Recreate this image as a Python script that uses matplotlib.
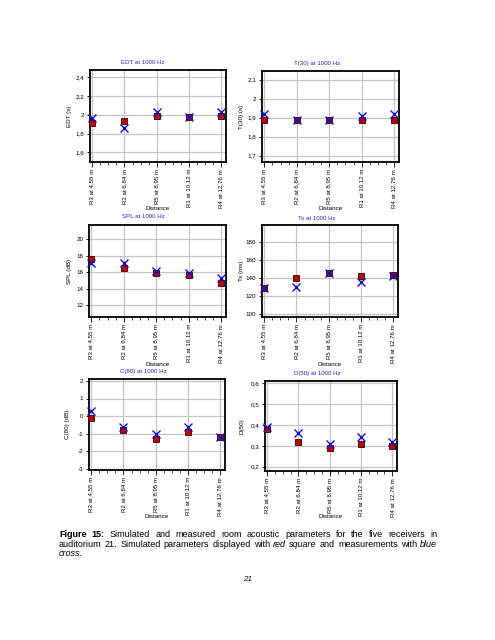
import numpy as np
import matplotlib
matplotlib.use('Agg')
import matplotlib.pyplot as plt
from matplotlib.ticker import MultipleLocator, FixedLocator, FuncFormatter

plt.rcParams['font.family'] = ['Liberation Sans', 'DejaVu Sans']

receivers = ['R3 at 4,55 m', 'R2 at 6,84 m', 'R5 at 8,95 m', 'R1 at 10,12 m', 'R4 at 12,76 m']

# simulated (red square) / measured (blue cross)
edt_sim = [1.91, 1.93, 1.99, 1.98, 1.99]
edt_meas = [1.97, 1.86, 2.03, 1.98, 2.03]
t30_sim = [1.89, 1.89, 1.89, 1.89, 1.89]
t30_meas = [1.92, 1.89, 1.89, 1.91, 1.92]
spl_sim = [17.6, 16.5, 15.9, 15.6, 14.7]
spl_meas = [17.1, 17.1, 16.1, 15.9, 15.3]
ts_sim = [129, 140, 146, 142, 144]
ts_meas = [129, 130, 146, 136, 142]
c80_sim = [-0.1, -0.8, -1.3, -0.9, -1.2]
c80_meas = [0.3, -0.6, -1.0, -0.6, -1.2]
d50_sim = [0.38, 0.32, 0.29, 0.31, 0.30]
d50_meas = [0.39, 0.36, 0.31, 0.34, 0.32]

W, H = 495, 640
fig = plt.figure(figsize=(W / 100, H / 100), dpi=100)

def fx(x):
    return x / W

def fy(y):
    return 1 - y / H

def comma(v, pos):
    s = f'{v:.2f}'.rstrip('0').rstrip('.')
    return s.replace('.', ',')

# title, ylabel, sim, meas, ylim, yticks, box(l, r, t, b), title y
panels = [
    ('EDT at 1000 Hz', 'EDT (s)', edt_sim, edt_meas, (1.497, 2.478), [1.6, 1.8, 2.0, 2.2, 2.4], (90, 226, 70, 162), 63),
    ('T(30) at 1000 Hz', 'T(30) (s)', t30_sim, t30_meas, (1.667, 2.145), [1.7, 1.8, 1.9, 2.0, 2.1], (262, 399, 71, 162), 63),
    ('SPL at 1000 Hz', 'SPL (dB)', spl_sim, spl_meas, (10.53, 21.75), [12, 14, 16, 18, 20], (89, 226, 225, 317), 216),
    ('Ts at 1000 Hz', 'Ts (ms)', ts_sim, ts_meas, (97.1, 198.8), [100, 120, 140, 160, 180], (262, 398, 225, 317), 218),
    ('C(80) at 1000 Hz', 'C(80) (dB)', c80_sim, c80_meas, (-3.07, 2.11), [-3, -2, -1, 0, 1, 2], (89, 225, 379, 470), 371),
    ('D(50) at 1000 Hz', 'D(50)', d50_sim, d50_meas, (0.179, 0.611), [0.2, 0.3, 0.4, 0.5, 0.6], (265, 397, 381, 471), 373),
]

dist_y = [209, 209, 364, 364, 517, 517]
ylab_x = [69, 241, 69, 242, 68, 242]
title_x = [143, 317, 143, 317, 143, 317]

x = np.arange(len(receivers))
for i, (title, ylab, sim, meas, ylim, yt, (l, r, t, b), ty) in enumerate(panels):
    ax = fig.add_axes([fx(l), fy(b), (r - l) / W, (b - t) / H])
    ax.plot(x, sim, linestyle='none', marker='s', markersize=3.9, markerfacecolor='#c00000',
            markeredgecolor='#300000', markeredgewidth=0.6, zorder=3, clip_on=False)
    ax.plot(x, meas, linestyle='none', marker='x', markersize=5.8, markeredgecolor='#1010c8',
            markeredgewidth=1.0, zorder=4, clip_on=False)
    ax.set_xlim(-0.07, 4.15)
    ax.set_ylim(*ylim)
    ax.xaxis.set_major_locator(FixedLocator(x))
    ax.xaxis.set_minor_locator(MultipleLocator(0.25))
    ax.set_xticklabels(receivers, rotation=90, fontsize=4.4)
    ax.yaxis.set_major_locator(FixedLocator(yt))
    ax.yaxis.set_major_formatter(FuncFormatter(comma))
    ax.tick_params(axis='y', labelsize=4.5, length=2.5, width=0.6, pad=1.5)
    ax.tick_params(axis='x', which='major', length=3.5, width=0.6, pad=1.5)
    ax.tick_params(axis='x', which='minor', length=2, width=0.5)
    ax.grid(True, which='major', color='#c4c4c4', linewidth=0.9)
    ax.set_axisbelow(True)
    for sp in ax.spines.values():
        sp.set_linewidth(1.3)
    fig.text(fx(title_x[i]), fy(ty), title, fontsize=4.4, color='#2828c0', ha='center', va='center')
    fig.text(fx((l + r) / 2), fy(dist_y[i]), 'Distance', fontsize=4.5, ha='center', va='center')
    fig.text(fx(ylab_x[i]), fy((t + b) / 2), ylab, fontsize=4.5, rotation=90, ha='center', va='center')

# caption, justified like the document
renderer = fig.canvas.get_renderer()

def justify(words, x0, x1, y, size):
    objs = []
    total = 0
    for w, wt, st in words:
        tx = fig.text(0, fy(y), w, fontsize=size, fontweight=wt, fontstyle=st, va='baseline')
        wpx = tx.get_window_extent(renderer).width
        objs.append((tx, wpx))
        total += wpx
    gap = (x1 - x0 - total) / (len(objs) - 1)
    pos = x0
    for tx, wpx in objs:
        tx.set_x(fx(pos))
        pos += wpx + gap

def words_of(text, wt='normal', st='normal'):
    return [(w, wt, st) for w in text.split()]

line1 = words_of('Figure 15:', 'bold') + words_of('Simulated and measured room acoustic parameters for the five receivers in')
line2 = (words_of('auditorium 21. Simulated parameters displayed with') + words_of('red square', st='italic')
         + words_of('and measurements with') + words_of('blue', st='italic'))
cap_size = 6.5
justify(line1, 59, 437, 537, cap_size)
justify(line2, 59, 437, 546.7, cap_size)
fig.text(fx(59), fy(556.2), 'cross.', fontsize=cap_size, fontstyle='italic', va='baseline')
fig.text(fx(248), fy(579.5), '21', fontsize=5.8, fontstyle='italic', ha='center', va='center')

fig.savefig('out.png', dpi=100)
